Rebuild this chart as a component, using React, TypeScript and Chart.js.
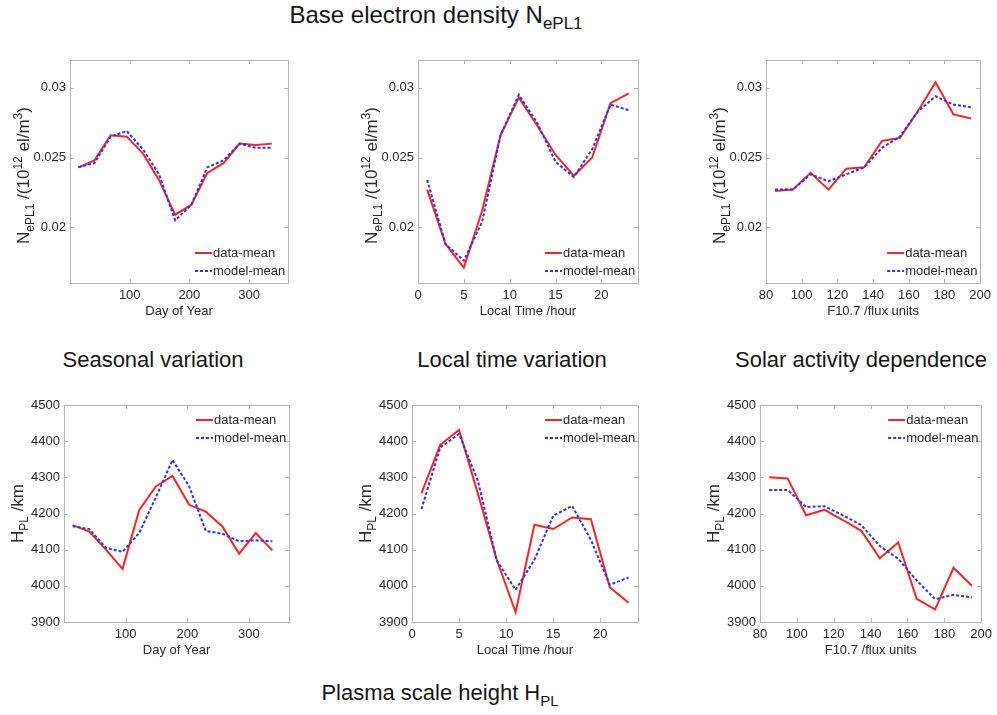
import React, { useEffect, useRef } from 'react';
import { Chart, registerables } from 'chart.js';

Chart.register(...registerables);

// ---------------- data ----------------
const doyX = [14, 41, 68, 95, 122, 149, 176, 203, 230, 257, 284, 311, 338];
const ltX = [1, 3, 5, 7, 9, 11, 13, 15, 17, 19, 21, 23];
const f107X = [85, 95, 105, 115, 125, 135, 145, 155, 165, 175, 185, 195];

const neDoyData = [0.0243, 0.0248, 0.0266, 0.0265, 0.0253, 0.0234, 0.0209, 0.0216, 0.0239, 0.0246, 0.0260, 0.0259, 0.0260];
const neDoyModel = [0.0243, 0.0246, 0.0265, 0.0269, 0.0256, 0.0238, 0.0205, 0.0216, 0.0243, 0.0248, 0.0260, 0.0257, 0.0257];

const neLtData = [0.0227, 0.0188, 0.0171, 0.0212, 0.0266, 0.0293, 0.0273, 0.0252, 0.0237, 0.0250, 0.0289, 0.0296];
const neLtModel = [0.0234, 0.0188, 0.0176, 0.0204, 0.0266, 0.0295, 0.0275, 0.0247, 0.0236, 0.0256, 0.0288, 0.0284];

const neF107Data = [0.0226, 0.0227, 0.0239, 0.0227, 0.0242, 0.0243, 0.0262, 0.0264, 0.0283, 0.0304, 0.0281, 0.0278];
const neF107Model = [0.0227, 0.0227, 0.0238, 0.0233, 0.0238, 0.0243, 0.0257, 0.0265, 0.0283, 0.0294, 0.0288, 0.0286];

const hDoyData = [4168, 4150, 4100, 4047, 4210, 4275, 4304, 4224, 4205, 4164, 4089, 4146, 4098];
const hDoyModel = [4165, 4157, 4105, 4094, 4146, 4245, 4348, 4275, 4152, 4144, 4123, 4126, 4123];

const hLtData = [4256, 4390, 4431, 4255, 4072, 3927, 4169, 4157, 4189, 4184, 3996, 3953];
const hLtModel = [4212, 4383, 4420, 4290, 4070, 3989, 4072, 4194, 4221, 4127, 4003, 4023];

const hF107Data = [4300, 4297, 4195, 4210, 4182, 4152, 4076, 4120, 3964, 3935, 4050, 4000];
const hF107Model = [4265, 4265, 4218, 4220, 4195, 4168, 4110, 4075, 4015, 3963, 3975, 3968];

const neTicks = [0.02, 0.025, 0.03];
const hTicks = [3900, 4000, 4100, 4200, 4300, 4400, 4500];
const doyTicks = [100, 200, 300];
const ltTicks = [0, 5, 10, 15, 20];
const f107Ticks = [80, 100, 120, 140, 160, 180, 200];

const legendLabels = ['data-mean', 'model-mean'];
const xTitles = ['Day of Year', 'Local Time /hour', 'F10.7 /flux units'];

// ---------------- style ----------------
const SANS = '"Liberation Sans", Arial, Helvetica, sans-serif';
const RED = '#ff2424';
const BLUE = '#2f2fff';
const BOX = '#b4b4b4';
const TXT = '#2a2a2a';
const AXFONT = 13;

const YW = 62; // y-axis band width
const PT = 20; // top padding
const PR = 13; // right padding
const XH = 40; // x-axis band height

type Box = { l: number; t: number; r: number; b: number };
type Seg = [string, number];

const neLabel: Seg[] = [['N', 0], ['ePL1', -1], [' /(10', 0], ['12', 1], [' el/m', 0], ['3', 1], [')', 0]];
const hLabel: Seg[] = [['H', 0], ['PL', -1], [' /km', 0]];

interface PanelCfg {
  x: number[];
  data: number[];
  model: number[];
  xMin: number;
  xMax: number;
  xTicks: number[];
  yMin: number;
  yMax: number;
  yTicks: number[];
  xTitle: string;
  yLabel: Seg[];
  legendTop: boolean;
  box: Box;
}

const panels: PanelCfg[] = [
  { x: doyX, data: neDoyData, model: neDoyModel, xMin: 0, xMax: 365, xTicks: doyTicks, yMin: 0.016, yMax: 0.032, yTicks: neTicks, xTitle: xTitles[0], yLabel: neLabel, legendTop: false, box: { l: 70, t: 60, r: 288, b: 283 } },
  { x: ltX, data: neLtData, model: neLtModel, xMin: 0, xMax: 24, xTicks: ltTicks, yMin: 0.016, yMax: 0.032, yTicks: neTicks, xTitle: xTitles[1], yLabel: neLabel, legendTop: false, box: { l: 418, t: 60, r: 638, b: 283 } },
  { x: f107X, data: neF107Data, model: neF107Model, xMin: 80, xMax: 200, xTicks: f107Ticks, yMin: 0.016, yMax: 0.032, yTicks: neTicks, xTitle: xTitles[2], yLabel: neLabel, legendTop: false, box: { l: 766, t: 60, r: 983, b: 283 } },
  { x: doyX, data: hDoyData, model: hDoyModel, xMin: 0, xMax: 365, xTicks: doyTicks, yMin: 3900, yMax: 4500, yTicks: hTicks, xTitle: xTitles[0], yLabel: hLabel, legendTop: true, box: { l: 64, t: 405, r: 289, b: 622 } },
  { x: ltX, data: hLtData, model: hLtModel, xMin: 0, xMax: 24, xTicks: ltTicks, yMin: 3900, yMax: 4500, yTicks: hTicks, xTitle: xTitles[1], yLabel: hLabel, legendTop: true, box: { l: 412, t: 405, r: 638, b: 622 } },
  { x: f107X, data: hF107Data, model: hF107Model, xMin: 80, xMax: 200, xTicks: f107Ticks, yMin: 3900, yMax: 4500, yTicks: hTicks, xTitle: xTitles[2], yLabel: hLabel, legendTop: true, box: { l: 760, t: 405, r: 984, b: 622 } },
];

function drawRich(ctx: CanvasRenderingContext2D, segs: Seg[], cx: number, cy: number, size: number) {
  ctx.save();
  ctx.translate(cx, cy);
  ctx.rotate(-Math.PI / 2);
  const small = Math.round(size * 0.68);
  let w = 0;
  for (const [t, k] of segs) {
    ctx.font = `${k ? small : size}px ${SANS}`;
    w += ctx.measureText(t).width;
  }
  let x = -w / 2;
  ctx.fillStyle = TXT;
  ctx.textBaseline = 'alphabetic';
  ctx.textAlign = 'left';
  const base = size * 0.36;
  for (const [t, k] of segs) {
    ctx.font = `${k ? small : size}px ${SANS}`;
    const off = k < 0 ? size * 0.3 : k > 0 ? -size * 0.42 : 0;
    ctx.fillText(t, x, base + off);
    x += ctx.measureText(t).width;
  }
  ctx.restore();
}

const decoPlugin = {
  id: 'deco',
  beforeDatasetsDraw(chart: any, _args: any, opts: any) {
    const { ctx, chartArea: a, scales } = chart;
    ctx.save();
    ctx.strokeStyle = BOX;
    ctx.lineWidth = 1;
    ctx.strokeRect(Math.round(a.left) + 0.5, Math.round(a.top) + 0.5, Math.round(a.right - a.left), Math.round(a.bottom - a.top));
    const tl = 4;
    ctx.beginPath();
    for (const v of opts.xTicks) {
      const px = Math.round(scales.x.getPixelForValue(v)) + 0.5;
      ctx.moveTo(px, a.bottom);
      ctx.lineTo(px, a.bottom - tl);
      ctx.moveTo(px, a.top);
      ctx.lineTo(px, a.top + tl);
    }
    for (const v of opts.yTicks) {
      const py = Math.round(scales.y.getPixelForValue(v)) + 0.5;
      ctx.moveTo(a.left, py);
      ctx.lineTo(a.left + tl, py);
      ctx.moveTo(a.right, py);
      ctx.lineTo(a.right - tl, py);
    }
    ctx.stroke();
    ctx.restore();
  },
  afterDatasetsDraw(chart: any, _args: any, opts: any) {
    const { ctx, chartArea: a } = chart;
    ctx.save();
    // legend
    const y1 = opts.legendTop ? a.top + 15 : a.bottom - 30;
    const ys = [y1, y1 + 18];
    const colors = [RED, BLUE];
    ctx.font = `${AXFONT}px ${SANS}`;
    ctx.textBaseline = 'middle';
    ctx.textAlign = 'left';
    ys.forEach((yy: number, i: number) => {
      ctx.strokeStyle = colors[i];
      ctx.lineWidth = 2;
      ctx.setLineDash(i === 1 ? [3, 2] : []);
      ctx.beginPath();
      ctx.moveTo(a.right - 93, yy);
      ctx.lineTo(a.right - 76, yy);
      ctx.stroke();
      ctx.setLineDash([]);
      ctx.fillStyle = TXT;
      ctx.fillText(opts.legend[i], a.right - 75, yy);
    });
    // x title
    ctx.font = `${AXFONT}px ${SANS}`;
    ctx.textAlign = 'center';
    ctx.fillStyle = TXT;
    ctx.fillText(opts.xTitle, (a.left + a.right) / 2, a.bottom + 28);
    ctx.restore();
    // y label
    drawRich(ctx, opts.yLabel, a.left - 47, (a.top + a.bottom) / 2 + (opts.legendTop ? 0 : 4), 17);
  },
};

function Panel({ cfg }: { cfg: PanelCfg }) {
  const ref = useRef<HTMLCanvasElement>(null);
  const { box } = cfg;
  const W = box.r - box.l + YW + PR;
  const H = box.b - box.t + PT + XH;
  useEffect(() => {
    if (!ref.current) return;
    const tickFont = { family: SANS, size: AXFONT };
    const chart = new Chart(ref.current, {
      type: 'line',
      data: {
        datasets: [
          {
            label: legendLabels[0],
            data: cfg.x.map((x, i) => ({ x, y: cfg.data[i] })),
            borderColor: RED,
            backgroundColor: RED,
            borderWidth: 2,
            pointRadius: 0,
            tension: 0,
            order: 2,
          },
          {
            label: legendLabels[1],
            data: cfg.x.map((x, i) => ({ x, y: cfg.model[i] })),
            borderColor: BLUE,
            backgroundColor: BLUE,
            borderWidth: 2,
            borderDash: [3, 2],
            pointRadius: 0,
            tension: 0,
            order: 1,
          },
        ],
      },
      options: {
        animation: false,
        responsive: false,
        maintainAspectRatio: false,
        devicePixelRatio: 1,
        events: [],
        layout: { padding: { left: 0, top: PT, right: PR, bottom: 0 } },
        plugins: {
          legend: { display: false },
          tooltip: { enabled: false },
          deco: {
            xTicks: cfg.xTicks,
            yTicks: cfg.yTicks,
            legendTop: cfg.legendTop,
            legend: legendLabels,
            xTitle: cfg.xTitle,
            yLabel: cfg.yLabel,
          },
        } as any,
        scales: {
          x: {
            type: 'linear',
            min: cfg.xMin,
            max: cfg.xMax,
            grid: { display: false, drawTicks: false },
            border: { display: false },
            afterBuildTicks: (s: any) => {
              s.ticks = cfg.xTicks.map((v) => ({ value: v }));
            },
            afterFit: (s: any) => {
              s.height = XH;
            },
            ticks: {
              padding: 5,
              font: tickFont,
              color: TXT,
              maxRotation: 0,
              autoSkip: false,
              callback: (v: any) => String(v),
            },
          },
          y: {
            type: 'linear',
            min: cfg.yMin,
            max: cfg.yMax,
            grid: { display: false, drawTicks: false },
            border: { display: false },
            afterBuildTicks: (s: any) => {
              s.ticks = cfg.yTicks.map((v) => ({ value: v }));
            },
            afterFit: (s: any) => {
              s.width = YW;
            },
            ticks: {
              padding: 4,
              font: tickFont,
              color: TXT,
              autoSkip: false,
              callback: (v: any) => String(Number(v)),
            },
          },
        },
      },
      plugins: [decoPlugin as any],
    });
    return () => chart.destroy();
  }, [cfg]);
  return (
    <canvas
      ref={ref}
      width={W}
      height={H}
      style={{ position: 'absolute', left: box.l - YW, top: box.t - PT, width: W, height: H }}
    />
  );
}

function Title({ cx, cy, main, sub, size = 22 }: { cx: number; cy: number; main: string; sub?: string; size?: number }) {
  return (
    <div
      style={{
        position: 'absolute',
        left: cx - 250,
        width: 500,
        top: cy - size / 2,
        height: size,
        lineHeight: `${size}px`,
        textAlign: 'center',
        fontFamily: SANS,
        fontSize: size,
        color: '#161616',
        whiteSpace: 'nowrap',
      }}
    >
      {main}
      {sub ? <span style={{ fontSize: Math.round(size * 0.7), position: 'relative', top: Math.round(size * 0.27) }}>{sub}</span> : null}
    </div>
  );
}

export default function App() {
  return (
    <div style={{ position: 'absolute', left: 0, top: 0, width: 997, height: 715, overflow: 'hidden', background: '#fff' }}>
      <Title cx={436} cy={15} main="Base electron density N" sub="ePL1" size={24} />
      <Title cx={153} cy={360} main="Seasonal variation" />
      <Title cx={512} cy={360} main="Local time variation" />
      <Title cx={861} cy={360} main="Solar activity dependence" />
      <Title cx={440} cy={693} main="Plasma scale height H" sub="PL" />
      {panels.map((p, i) => (
        <Panel key={i} cfg={p} />
      ))}
    </div>
  );
}
